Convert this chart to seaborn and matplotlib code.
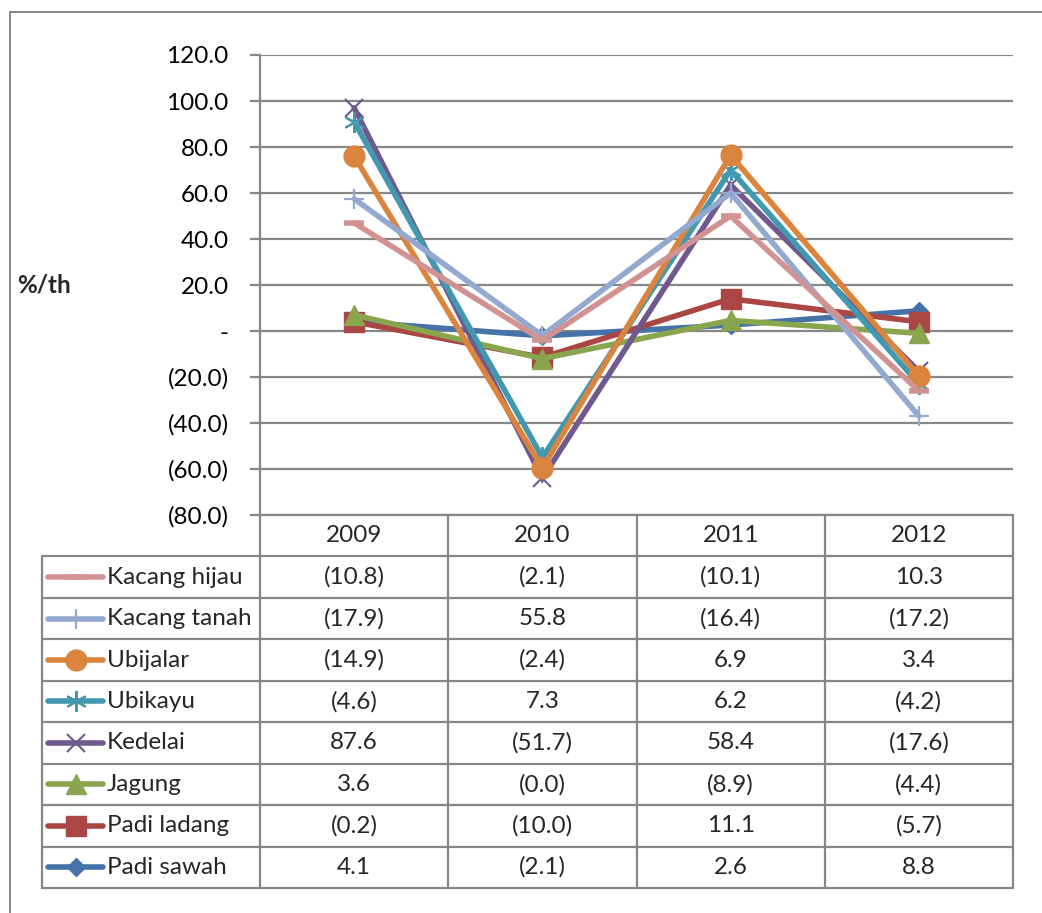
import matplotlib
matplotlib.use("Agg")
import matplotlib.pyplot as plt
from matplotlib.lines import Line2D
import numpy as np
import pandas as pd
import seaborn as sns

# ---- data -------------------------------------------------------------
years = ["2009", "2010", "2011", "2012"]
series_names = ["Kacang hijau", "Kacang tanah", "Ubijalar", "Ubikayu",
                "Kedelai", "Jagung", "Padi ladang", "Padi sawah"]

# growth (%/th) drawn as lines
kacang_hijau = [47.0, -4.0, 50.0, -26.0]
kacang_tanah = [57.5, -2.0, 60.0, -37.0]
ubijalar = [76.0, -59.5, 76.5, -19.5]
ubikayu = [91.0, -55.0, 70.0, -23.0]
kedelai = [97.0, -64.0, 63.5, -17.5]
jagung = [7.0, -12.0, 4.6, -1.0]
padi_ladang = [4.0, -11.5, 14.0, 4.0]
padi_sawah = [4.1, -2.1, 2.6, 8.8]

# values listed in the data table under the chart
tbl_kacang_hijau = [-10.8, -2.1, -10.1, 10.3]
tbl_kacang_tanah = [-17.9, 55.8, -16.4, -17.2]
tbl_ubijalar = [-14.9, -2.4, 6.9, 3.4]
tbl_ubikayu = [-4.6, 7.3, 6.2, -4.2]
tbl_kedelai = [87.6, -51.7, 58.4, -17.6]
tbl_jagung = [3.6, -0.0, -8.9, -4.4]
tbl_padi_ladang = [-0.2, -10.0, 11.1, -5.7]
tbl_padi_sawah = [4.1, -2.1, 2.6, 8.8]

y_ticks = [120, 100, 80, 60, 40, 20, 0, -20, -40, -60, -80]

line_values = dict(zip(series_names, [kacang_hijau, kacang_tanah, ubijalar, ubikayu,
                                      kedelai, jagung, padi_ladang, padi_sawah]))
table_values = dict(zip(series_names, [tbl_kacang_hijau, tbl_kacang_tanah, tbl_ubijalar,
                                       tbl_ubikayu, tbl_kedelai, tbl_jagung,
                                       tbl_padi_ladang, tbl_padi_sawah]))

# ---- styles -------------------------------------------------------------
colors = {
    "Kacang hijau": "#D19392", "Kacang tanah": "#93A9CF", "Ubijalar": "#DB843D",
    "Ubikayu": "#4198AF", "Kedelai": "#71588F", "Jagung": "#89A54E",
    "Padi ladang": "#AA4643", "Padi sawah": "#4572A7",
}
marker_style = {
    "Kacang hijau": dict(marker="_", ms=14, mew=4.0),
    "Kacang tanah": dict(marker="+", ms=15, mew=1.6),
    "Ubijalar": dict(marker="o", ms=15, mew=1),
    "Ubikayu": dict(marker=(6, 2, 0), ms=15, mew=1.5),
    "Kedelai": dict(marker="x", ms=13, mew=1.5),
    "Jagung": dict(marker="^", ms=15, mew=1),
    "Padi ladang": dict(marker="s", ms=14, mew=1),
    "Padi sawah": dict(marker="D", ms=9.5, mew=1),
}
draw_order = ["Padi sawah", "Padi ladang", "Jagung", "Kedelai", "Ubikayu",
              "Ubijalar", "Kacang tanah", "Kacang hijau"]

GRID = "#878787"
FONT = ["Lato", "DejaVu Sans"]
FS = 17.5
LW = 4.0

sns.set_theme(style="white")
plt.rcParams["font.family"] = FONT
plt.rcParams["font.size"] = FS

W, H = 1042, 913
fig = plt.figure(figsize=(W / 100, H / 100), dpi=100)

# layout in pixels
plot_l, plot_r, plot_t, plot_b = 260, 1013, 55, 515
n_rows = len(series_names) + 1
table_bottom = 888
row_h = (table_bottom - plot_b) / n_rows
legend_l = 42
col_w = (plot_r - plot_l) / len(years)

# background overlay for the frame and the data table (pixel coordinates)
ov = fig.add_axes([0, 0, 1, 1], zorder=0)
ov.set_xlim(0, W)
ov.set_ylim(H, 0)
ov.axis("off")
ov.patch.set_alpha(0)

ax = fig.add_axes([plot_l / W, 1 - plot_b / H, (plot_r - plot_l) / W, (plot_b - plot_t) / H],
                  zorder=2)
ax.patch.set_alpha(0)

x = np.arange(len(years))
for name in draw_order:
    df = pd.DataFrame({"x": x, "y": line_values[name]})
    st = marker_style[name]
    sns.lineplot(data=df, x="x", y="y", ax=ax, color=colors[name], linewidth=LW,
                 marker=st["marker"], markersize=st["ms"], markeredgewidth=st["mew"],
                 markeredgecolor=colors[name], markerfacecolor=colors[name],
                 solid_joinstyle="miter", clip_on=False, legend=False)

ax.set_xlim(-0.5, len(years) - 0.5)
ax.set_ylim(-80, 120)
ax.set_yticks(y_ticks)


def fmt(v):
    if abs(v) < 1e-9:
        return "-"
    return f"({abs(v):.1f})" if v < 0 else f"{v:.1f}"


ax.set_yticklabels([fmt(v) for v in y_ticks])
ax.set_xticks([])
ax.set_xlabel("")
ax.set_ylabel("")
ax.yaxis.grid(True, color=GRID, linewidth=1.6)
ax.set_axisbelow(True)
for s in ["top", "right", "bottom"]:
    ax.spines[s].set_visible(False)
ax.spines["left"].set_color(GRID)
ax.spines["left"].set_linewidth(1.6)
ax.tick_params(axis="y", direction="out", length=7.5, width=1.6, color=GRID,
               pad=15, labelsize=FS, labelcolor="black", left=True)

fig.text(17 / W, 1 - 285 / H, "%/th", fontsize=FS, fontweight="bold",
         ha="left", va="center", family=FONT)

# outer frame (top and left edges visible)
ov.plot([10, W + 5], [12, 12], color=GRID, lw=1.4, clip_on=False)
ov.plot([10, 10], [12, H + 5], color=GRID, lw=1.4, clip_on=False)

# ---- data table ---------------------------------------------------------
lw_t = 1.6
ov.plot([plot_l, plot_r], [plot_b, plot_b], color=GRID, lw=lw_t)
for i in range(1, n_rows + 1):
    y = plot_b + i * row_h
    ov.plot([legend_l, plot_r], [y, y], color=GRID, lw=lw_t)
ov.plot([legend_l, legend_l], [plot_b + row_h, table_bottom], color=GRID, lw=lw_t)
for j in range(len(years) + 1):
    xx = plot_l + j * col_w
    ov.plot([xx, xx], [plot_b, table_bottom], color=GRID, lw=lw_t)

for j, yr in enumerate(years):
    ov.text(plot_l + (j + 0.5) * col_w, plot_b + 0.5 * row_h, yr,
            ha="center", va="center", fontsize=FS)

for i, name in enumerate(series_names):
    yc = plot_b + (i + 1.5) * row_h
    st = marker_style[name]
    ov.add_line(Line2D([48, 103], [yc, yc], color=colors[name], lw=LW,
                       solid_capstyle="round"))
    ov.add_line(Line2D([75.5], [yc], color=colors[name], marker=st["marker"],
                       markersize=st["ms"], markeredgewidth=st["mew"],
                       markeredgecolor=colors[name], markerfacecolor=colors[name],
                       linestyle="none"))
    ov.text(107, yc, name, ha="left", va="center", fontsize=FS)
    for j, v in enumerate(table_values[name]):
        ov.text(plot_l + (j + 0.5) * col_w, yc, fmt(v) if abs(v) > 1e-9 else "(0.0)",
                ha="center", va="center", fontsize=FS)

fig.savefig("out.png", dpi=100, facecolor="white")
